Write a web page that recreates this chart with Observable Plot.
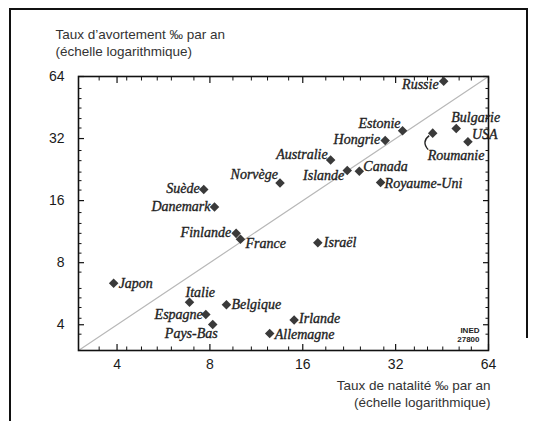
<!DOCTYPE html>
<html><head><meta charset="utf-8">
<script src="https://cdn.jsdelivr.net/npm/d3@7"></script>
<script src="https://cdn.jsdelivr.net/npm/@observablehq/plot@0.6"></script>
<style>body{margin:0;background:#fff} svg{display:block}</style>
</head><body><div id="chart"></div>
<script>
// ---- data ----
const countries = ["Russie","Estonie","Hongrie","Bulgarie","Roumanie","USA","Australie","Islande","Canada","Royaume-Uni","Norvège","Suède","Danemark","Finlande","France","Israël","Irlande","Allemagne","Japon","Italie","Belgique","Espagne","Pays-Bas"];
const natalite   = [45.8, 33.7, 29.6, 50.3, 42.2, 54.9, 19.7, 22.3, 24.4, 28.6, 13.5, 7.64, 8.28, 9.73, 10.05, 17.9, 15.0, 12.5, 3.90, 6.87, 9.05, 7.76, 8.17];
const avortement = [60.7, 34.9, 31.3, 35.8, 34.0, 30.9, 25.2, 22.4, 22.2, 19.6, 19.5, 18.1, 14.9, 11.1, 10.4, 10.0, 4.22, 3.63, 6.36, 5.14, 5.0, 4.48, 4.01];
const xTicks = [4, 8, 16, 32, 64];
const yTicks = [4, 8, 16, 32, 64];
const xMinorTicks = [3.5, 4.3, 4.8, 5.4, 6, 7.1, 9.5, 10.9, 12.3, 14.4, 19, 21.7, 24.6, 29.3, 36.8, 40.6, 45.5, 51.4, 56.3];
const yMinorTicks = [3.6, 4.3, 4.85, 5.4, 6, 7.2, 8.9, 9.9, 11.1, 12.4, 14, 18, 20, 22, 25, 28, 36, 40, 45, 50, 56];
const axisBounds = [3, 64];
const yTitle = ["Taux d\u2019avortement \u2030 par an", "(échelle logarithmique)"];
const xTitle = ["Taux de natalité \u2030 par an", "(échelle logarithmique)"];
const sourceNote = ["INED", "27800"];

// ---- label placement (style only) ----
const placement = {
  "Russie": ["end", -5, 3], "Estonie": ["end", -2, -7], "Hongrie": ["end", -5, -1],
  "Bulgarie": ["start", -5, -11], "USA": ["start", 4, -7], "Roumanie": ["start", -5, 22],
  "Australie": ["end", -3, -5], "Islande": ["end", -3, 5], "Canada": ["start", 4, -5],
  "Royaume-Uni": ["start", 4, 1], "Norvège": ["end", -2, -8], "Suède": ["end", -4, -1],
  "Danemark": ["end", -4, 0], "Finlande": ["end", -5, -1], "France": ["start", 5, 4],
  "Israël": ["start", 6, 0], "Irlande": ["start", 5, -1], "Allemagne": ["start", 5, 1],
  "Japon": ["start", 5, 0], "Italie": ["start", -4, -10], "Belgique": ["start", 5, 0],
  "Espagne": ["end", -3, 0], "Pays-Bas": ["end", 5, 9]
};

const data = countries.map((c, i) => ({pays: c, x: natalite[i], y: avortement[i]}));
const diag = axisBounds.map(v => ({x: v, y: v}));

const labelMarks = data.map(d => {
  const [anchor, dx, dy] = placement[d.pays];
  return Plot.text([d], {x: "x", y: "y", text: "pays", textAnchor: anchor, dx, dy,
    fontFamily: "'Liberation Serif', 'Times New Roman', serif", fontStyle: "italic",
    fontSize: 14, fill: "#222", stroke: "#222", strokeWidth: 0.35});
});

const tickAxes = [];
for (const anchor of ["top", "bottom"]) {
  tickAxes.push(Plot.axisX({anchor, ticks: xTicks, tickSize: -6, tickFormat: () => "", label: null, stroke: "#111", strokeWidth: 1.2}));
  tickAxes.push(Plot.axisX({anchor, ticks: xMinorTicks, tickSize: -3.5, tickFormat: () => "", label: null, stroke: "#111"}));
}
for (const anchor of ["left", "right"]) {
  tickAxes.push(Plot.axisY({anchor, ticks: yTicks, tickSize: -6, tickFormat: () => "", label: null, stroke: "#111", strokeWidth: 1.2}));
  tickAxes.push(Plot.axisY({anchor, ticks: yMinorTicks, tickSize: -3.5, tickFormat: () => "", label: null, stroke: "#111"}));
}

const chart = Plot.plot({
  width: 538, height: 421,
  marginLeft: 78, marginRight: 50, marginTop: 76, marginBottom: 71,
  x: {type: "log", domain: axisBounds, label: null},
  y: {type: "log", domain: axisBounds, label: null},
  style: {fontFamily: "'Liberation Sans', Arial, sans-serif", background: "#fff", color: "#1a1a1a"},
  marks: [
    Plot.line(diag, {x: "x", y: "y", stroke: "#b8b8b8", strokeWidth: 1.2}),
    ...tickAxes,
    Plot.text(xTicks, {x: d => d, text: d => String(d), frameAnchor: "bottom", dy: 18, fontSize: 14, fill: "#1a1a1a"}),
    Plot.text(yTicks, {y: d => d, text: d => String(d), frameAnchor: "left", textAnchor: "end", dx: -14, fontSize: 14, fill: "#1a1a1a"}),
    Plot.frame({stroke: "#111", strokeWidth: 1.6}),
    Plot.dot(data, {x: "x", y: "y", symbol: "diamond2", r: 4.3, fill: "#3a3a3a", stroke: "none"}),
    ...labelMarks,
    Plot.text([yTitle.join("\n")], {frameAnchor: "top-left", textAnchor: "start", lineAnchor: "middle", dx: -23, dy: -34.5, fontSize: 13.5, lineHeight: 1.25, fill: "#333"}),
    Plot.text([xTitle.join("\n")], {frameAnchor: "bottom-right", textAnchor: "end", lineAnchor: "middle", dx: 2, dy: 42.5, fontSize: 13.5, lineHeight: 1.25, fill: "#333"}),
    Plot.text([sourceNote.join("\n")], {frameAnchor: "bottom-right", textAnchor: "end", lineAnchor: "middle", dx: -9, dy: -16, fontSize: 8, fontWeight: "bold", lineHeight: 1.2, fill: "#222"})
  ]
});

document.getElementById("chart").appendChild(chart);

// Roumanie hook arrow, placed with the chart's own scales
const sx = chart.scale("x"), sy = chart.scale("y");
const iR = countries.indexOf("Roumanie");
const px = sx.apply(natalite[iR]), py = sy.apply(avortement[iR]);
const svg = d3.select(chart);
svg.append("path")
  .attr("d", `M${px - 3},${py + 3} Q${px - 11},${py + 9} ${px - 4},${py + 17}`)
  .attr("fill", "none").attr("stroke", "#222").attr("stroke-width", 1.4);

// outer border of the figure
svg.append("path")
  .attr("d", "M10,421 V9 H527 V338")
  .attr("fill", "none").attr("stroke", "#111").attr("stroke-width", 2);
</script>
</body></html>
